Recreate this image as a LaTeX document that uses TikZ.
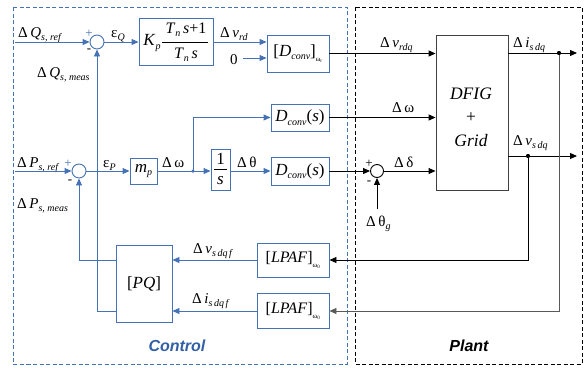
\documentclass[tikz,border=0pt]{standalone}
\usepackage{fontspec}
\setmainfont{Liberation Serif}
\newfontfamily\sansf{Liberation Sans}
\usetikzlibrary{arrows.meta,calc}
\definecolor{cb}{RGB}{68,114,180}
\definecolor{ct}{RGB}{50,95,165}
\newcommand{\sbb}[1]{\raisebox{-0.45ex}{\fontsize{10}{10}\selectfont\itshape #1}}
\newcommand{\tsb}[1]{\raisebox{-0.7ex}{\fontsize{7}{7}\selectfont #1}}
\newcommand{\dl}{Δ\,}
\begin{document}
\begin{tikzpicture}[x=1pt,y=-1pt,
  bbox/.style={draw=cb,line width=0.9pt,fill=white,inner sep=0pt,font=\fontsize{17}{17}\selectfont},
  sumb/.style={circle,draw=cb,line width=0.9pt,minimum size=14pt,inner sep=0pt},
  sumk/.style={circle,draw=black,line width=0.9pt,minimum size=13pt,inner sep=0pt},
  ab/.style={draw=cb,line width=0.9pt,-{Triangle[length=7pt,width=6pt]}},
  ak/.style={draw=black,line width=0.9pt,-{Triangle[length=7pt,width=6pt]}},
  lbl/.style={font=\fontsize{15}{15}\selectfont,inner sep=0pt,anchor=base west},
  sg/.style={font=\fontsize{13}{13}\selectfont,inner sep=0pt},
  dot/.style={circle,fill=black,inner sep=0pt,minimum size=4pt}
]
\useasboundingbox (0,0) rectangle (585,367);
% frames
\draw[cb,line width=0.8pt,dash pattern=on 4pt off 2.5pt] (13,7) rectangle (347,364);
\draw[black,line width=0.8pt,dash pattern=on 4pt off 2.5pt] (355,7) rectangle (582,364);
\node[text=ct,font=\sansf\bfseries\itshape\fontsize{16}{16}\selectfont] (ctl) at (177,346) {Control};
\node[font=\sansf\bfseries\itshape\fontsize{16}{16}\selectfont] (plt) at (469,346) {Plant};

% blocks
\node[bbox,minimum width=74pt,minimum height=47pt] (pi) at (176,42) {};
\node[font=\fontsize{17}{17}\selectfont,inner sep=0pt] (kp) at (152,43) {\textit{K}\sbb{p}};
\node[font=\fontsize{16}{16}\selectfont,inner sep=0pt] (num) at (186,30) {\textit{T}\sbb{n}\,\textit{s}+1};
\node[font=\fontsize{16}{16}\selectfont,inner sep=0pt] (den) at (186,55) {\textit{T}\sbb{n}\,\textit{s}};
\draw[line width=0.8pt] (162,42) -- (208,42);

\node[bbox,minimum width=62pt,minimum height=37pt] (dcr) at (298,53.5) {[\textit{D}\sbb{conv}]\tsb{ω\textsubscript{r}}};
\node[bbox,minimum width=58pt,minimum height=27pt] (dc2) at (300,117.5) {\textit{D}\sbb{conv}(\textit{s})};
\node[bbox,minimum width=58pt,minimum height=28pt] (dc3) at (300,171) {\textit{D}\sbb{conv}(\textit{s})};
\node[bbox,minimum width=27pt,minimum height=26pt] (mp) at (143.5,171) {\textit{m}\sbb{p}};
\node[bbox,minimum width=19pt,minimum height=41pt] (inv) at (220.5,170) {};
\node[font=\fontsize{17}{17}\selectfont,inner sep=0pt] (one) at (220.5,159) {1};
\node[font=\fontsize{17}{17}\selectfont,inner sep=0pt] (ess) at (220.5,181) {\textit{s}};
\draw[line width=0.8pt] (214,169) -- (227,169);
\node[draw=black!75,line width=0.9pt,fill=white,minimum width=72pt,minimum height=155pt] (dfig) at (472,112.5) {};
\node[font=\fontsize{17.5}{17.5}\selectfont\itshape] (t1) at (471,94) {DFIG};
\node[font=\fontsize{17.5}{17.5}\selectfont] (t2) at (471,118) {+};
\node[font=\fontsize{17.5}{17.5}\selectfont\itshape] (t3) at (471,141) {Grid};
\node[bbox,minimum width=56pt,minimum height=77pt] (pq) at (144,283.5) {[\textit{PQ}]};
\node[bbox,minimum width=72pt,minimum height=34pt,font=\fontsize{16}{16}\selectfont] (lp1) at (293,260) {[\textit{LPAF}]\tsb{ω\textsubscript{0}}};
\node[bbox,minimum width=72pt,minimum height=35pt,font=\fontsize{16}{16}\selectfont] (lp2) at (293,311) {[\textit{LPAF}]\tsb{ω\textsubscript{0}}};

% sums
\node[sumb] (s1) at (97,42) {};
\node[sumb] (s3) at (79,171) {};
\node[sumk] (s2) at (377,171) {};
\node[sg,text=cb] at (89,34) {+};
\node[sg] at (89,51) {-};
\node[sg,text=cb] at (68,164) {+};
\node[sg] at (70,182) {-};
\node[sg] at (369,164) {+};
\node[sg] at (369,183) {-};

% coordinates
\coordinate (qin) at (15,42);
\coordinate (pin) at (15,171);
\coordinate (w) at (193,171);
\coordinate (thtop) at (377,209);
\coordinate (iout) at (577,53);
\coordinate (vout) at (577,156);
\node[dot] (d1) at (559,53) {};
\node[dot] (d2) at (528,156) {};
\node[dot,fill=cb,minimum size=3.5pt] (dw) at (w) {};

% labels
\node[lbl] (lqr) at (18,37) {\dl\textit{Q}\sbb{s, ref}};
\node[lbl] (lqm) at (37,77) {\dl\textit{Q}\sbb{s, meas}};
\node[lbl] (lpr) at (17,167) {\dl\textit{P}\sbb{s, ref}};
\node[lbl] (lpm) at (17,208) {\dl\textit{P}\sbb{s, meas}};
\node[lbl] (leq) at (111,37) {ε\sbb{Q}};
\node[lbl] (lvrd) at (220,37) {\dl\textit{v}\sbb{rd}};
\node[lbl] (zero) at (230,64) {0};
\node[lbl] (lep) at (103,167) {ε\sbb{P}};
\node[lbl] (lw) at (162,167) {\dl ω};
\node[lbl] (lth) at (237,167) {\dl θ};
\node[lbl] (lvrdq) at (380,47) {\dl\textit{v}\sbb{rdq}};
\node[lbl] (lw2) at (392,112) {\dl ω};
\node[lbl] (ldel) at (394,167) {\dl δ};
\node[lbl] (lthg) at (366,226) {\dl θ\sbb{g}};
\node[lbl] (lisdq) at (513,47) {\dl\textit{i}\sbb{s\,dq}};
\node[lbl] (lvsdq) at (513,145) {\dl\textit{v}\sbb{s\,dq}};
\node[lbl] (lvf) at (193,253) {\dl\textit{v}\sbb{s\,dq\,f}};
\node[lbl] (lif) at (192,303) {\dl\textit{i}\sbb{s\,dq\,f}};

% connectors - control
\draw[ab] (qin) -- (s1.west);
\draw[ab] (s1.east) -- (pi.west |- s1);
\draw[ab] (pi.east |- s1) -- (dcr.west |- s1);
\draw[ab] (243,58) -- (dcr.west |- 0,58);
\draw[ab] (pin) -- (s3.west);
\draw[ab] (s3.east) -- (mp.west |- s3);
\draw[ab] (mp.east |- s3) -- (inv.west |- s3);
\draw[ab] (inv.east |- s3) -- (dc3.west |- s3);
\draw[ab] (w) |- (dc2.west);
\draw[ab] (pq.west |- lp1.west) -| (s3.south);
\draw[ab] (pq.west |- lp2.west) -| (s1.south);
\draw[ab] (lp1.west) -- (pq.east |- lp1.west);
\draw[ab] (lp2.west) -- (pq.east |- lp2.west);

% connectors - plant
\draw[ak] (dcr.east) -- (dcr.east -| dfig.west);
\draw[ak] (dc2.east) -- (dc2.east -| dfig.west);
\draw[ak] (dc3.east) -- (s2.west);
\draw[ak] (s2.east) -- (s2.east -| dfig.west);
\draw[ak] (thtop) -- (s2.south);
\draw[ak] (dfig.east |- iout) -- (iout);
\draw[ak] (dfig.east |- vout) -- (vout);
\draw[ak] (d2) |- (lp1.east);
\draw[ak,draw=black!65] (d1) |- (lp2.east);
\node[dot] at (d1) {};
\node[dot] at (d2) {};
\end{tikzpicture}
\end{document}
